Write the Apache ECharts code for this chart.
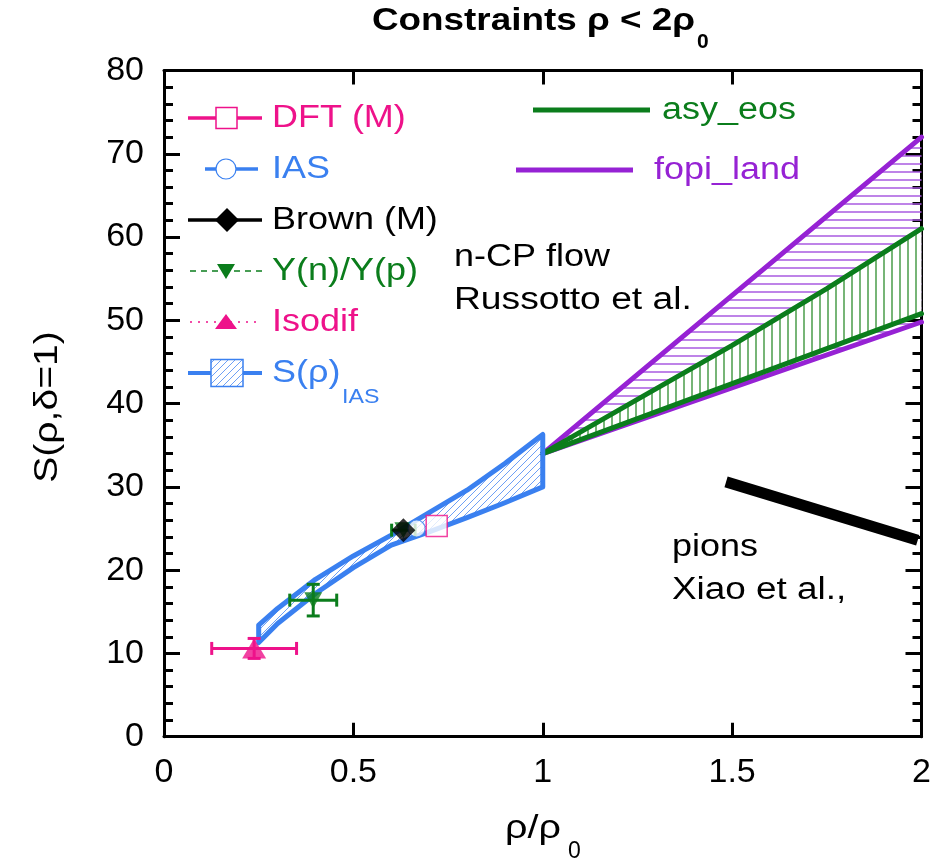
<!DOCTYPE html>
<html><head><meta charset="utf-8">
<script src="https://cdn.jsdelivr.net/npm/echarts@6/dist/echarts.min.js"></script>
<style>html,body{margin:0;padding:0;background:#fff}#c{width:946px;height:865px}</style>
</head><body><div id="c"></div>
<script>
// ---------------- data ----------------
const xTickLabels = ['0', '0.5', '1', '1.5', '2'];
const yTickLabels = ['0', '10', '20', '30', '40', '50', '60', '70', '80'];

// S(rho)_IAS band
const bandX     = [0.25, 0.30, 0.40, 0.50, 0.60, 0.70, 0.80, 0.90, 1.00];
const bandUpper = [13.4, 15.4, 18.9, 21.7, 24.2, 26.9, 29.6, 32.8, 36.3];
const bandLower = [11.3, 13.6, 17.2, 20.3, 23.0, 24.6, 26.3, 28.1, 30.0];

// asy_eos band (green)
const asyX     = [1.0, 1.25, 1.5, 1.75, 2.0];
const asyUpper = [34.0, 40.5, 47.0, 53.8, 61.0];
const asyLower = [34.0, 38.2, 42.4, 46.6, 50.8];

// fopi_land band (purple)
const fopiX     = [1.0, 2.0];
const fopiUpper = [34.0, 72.0];
const fopiLower = [34.0, 49.8];

// pions, Xiao et al.
const pionsX = [1.484, 1.99];
const pionsY = [30.6, 23.6];

// points
const dftX = [0.72],  dftY = [25.3];
const iasX = [0.667], iasY = [25.0];
const brownX = [0.632], brownY = [24.8];
const ynypX = [0.394, 0.632], ynypY = [16.4, 24.8];
const ynypXErr = [0.062, 0.031], ynypYErr = [1.9, 0];
const isoX = [0.238], isoY = [10.6];
const isoXErr = [0.112], isoYErr = [1.2];

const legendLeft = ['DFT (M)', 'IAS', 'Brown (M)', 'Y(n)/Y(p)', 'Isodif', 'S(ρ)'];
const legendRight = ['asy_eos', 'fopi_land'];

// ---------------- styles ----------------
const PINK = '#ee128a', BLUE = '#3a80f0', GREEN = '#0b7d1c', PURPLE = '#9622d4', BLACK = '#000';
const FONT = '"Liberation Sans", Arial, Helvetica, sans-serif';
const SX = 1.16;

function makeTile(w, h, bg, draw) {
  const c = document.createElement('canvas'); c.width = w; c.height = h;
  const ctx = c.getContext('2d');
  if (bg) { ctx.fillStyle = bg; ctx.fillRect(0, 0, w, h); }
  draw(ctx); return c;
}
const blueTile = makeTile(7, 7, 'rgba(255,255,255,0)', ctx => {
  ctx.strokeStyle = 'rgb(110,160,245)'; ctx.lineWidth = 1;
  ctx.beginPath(); ctx.moveTo(-1, 8); ctx.lineTo(8, -1); ctx.moveTo(-1, 1); ctx.lineTo(1, -1); ctx.moveTo(6, 8); ctx.lineTo(8, 6); ctx.stroke();
});
const purpleTile = makeTile(8, 8, null, ctx => {
  ctx.strokeStyle = '#a85ae0'; ctx.lineWidth = 1.5;
  ctx.beginPath(); ctx.moveTo(0, 4); ctx.lineTo(8, 4); ctx.stroke();
});
const greenTile = makeTile(8, 8, '#ffffff', ctx => {
  ctx.strokeStyle = '#4a9c4a'; ctx.lineWidth = 1.5;
  ctx.beginPath(); ctx.moveTo(4, 0); ctx.lineTo(4, 8); ctx.stroke();
});

const mctx = document.createElement('canvas').getContext('2d');
function tw(s, font) { mctx.font = font; return mctx.measureText(s).width; }

function zip(a, b) { return a.map((v, i) => [v, b[i]]); }

function bandSeries(xs, up, lo, fill, stroke, lw, z) {
  return {
    type: 'custom', coordinateSystem: 'cartesian2d', silent: true, z: z,
    data: [[xs[0], lo[0]]],
    renderItem: function (params, api) {
      const pts = [];
      for (let i = 0; i < xs.length; i++) pts.push(api.coord([xs[i], up[i]]));
      for (let i = xs.length - 1; i >= 0; i--) pts.push(api.coord([xs[i], lo[i]]));
      return { type: 'polygon', shape: { points: pts },
        style: { fill: fill, stroke: stroke || null, lineWidth: lw || 0, lineJoin: 'round' } };
    }
  };
}

function errSeries(xs, ys, xe, ye, color, lw, cap, z) {
  return {
    type: 'custom', coordinateSystem: 'cartesian2d', silent: true, z: z,
    data: xs.map((x, i) => [x, ys[i], xe[i], ye[i]]),
    renderItem: function (params, api) {
      const x = api.value(0), y = api.value(1), dx = api.value(2), dy = api.value(3);
      const ch = [];
      const st = { stroke: color, lineWidth: lw };
      if (dx > 0) {
        const a = api.coord([x - dx, y]), b = api.coord([x + dx, y]);
        ch.push({ type: 'line', shape: { x1: a[0], y1: a[1], x2: b[0], y2: b[1] }, style: st });
        ch.push({ type: 'line', shape: { x1: a[0], y1: a[1] - cap / 2, x2: a[0], y2: a[1] + cap / 2 }, style: st });
        ch.push({ type: 'line', shape: { x1: b[0], y1: b[1] - cap / 2, x2: b[0], y2: b[1] + cap / 2 }, style: st });
      }
      if (dy > 0) {
        const a = api.coord([x, y - dy]), b = api.coord([x, y + dy]);
        ch.push({ type: 'line', shape: { x1: a[0], y1: a[1], x2: b[0], y2: b[1] }, style: st });
        ch.push({ type: 'line', shape: { x1: a[0] - cap / 2, y1: a[1], x2: a[0] + cap / 2, y2: a[1] }, style: st });
        ch.push({ type: 'line', shape: { x1: b[0] - cap / 2, y1: b[1], x2: b[0] + cap / 2, y2: b[1] }, style: st });
      }
      return { type: 'group', children: ch };
    }
  };
}

function lineSeries(xs, ys, color, w, z, cap) {
  return { type: 'line', data: zip(xs, ys), symbol: 'none', silent: true, z: z,
    lineStyle: { color: color, width: w, cap: cap || 'round' }, animation: false };
}

function text(s, x, y, size, color, opt) {
  opt = opt || {};
  const font = (opt.bold ? 'bold ' : '') + size + 'px ' + FONT;
  let sx = opt.sx || SX;
  if (opt.width) sx = opt.width / tw(s, font);
  return { type: 'text', x: x, y: y, scaleX: sx, rotation: opt.rot || 0, silent: true, z: 100,
    style: { text: s, font: font, fill: color, align: opt.align || 'left', verticalAlign: 'middle',
      textAlign: opt.align || 'left', textVerticalAlign: 'middle' } };
}
function seg(x1, y1, x2, y2, color, w, dash) {
  return { type: 'line', silent: true, z: 100, shape: { x1: x1, y1: y1, x2: x2, y2: y2 },
    style: { stroke: color, lineWidth: w, lineDash: dash || null } };
}

// ---------------- legend graphics ----------------
const rowY = [118, 169, 220, 271, 322, 373];
const legendColors = [PINK, BLUE, BLACK, GREEN, PINK, BLUE];
const gr = [];
gr.push(seg(188, rowY[0], 262, rowY[0], PINK, 3.3));
gr.push({ type: 'rect', z: 101, silent: true, shape: { x: 216, y: rowY[0] - 10.5, width: 21, height: 21 }, style: { fill: '#fff', stroke: PINK, lineWidth: 1.5 } });
gr.push(seg(205, rowY[1], 258, rowY[1], BLUE, 3.3));
gr.push({ type: 'circle', z: 101, silent: true, shape: { cx: 226, cy: rowY[1], r: 10 }, style: { fill: '#fff', stroke: BLUE, lineWidth: 1.2 } });
gr.push(seg(188, rowY[2], 262, rowY[2], BLACK, 3.3));
gr.push({ type: 'polygon', z: 101, silent: true, shape: { points: [[227, rowY[2] - 12], [239, rowY[2]], [227, rowY[2] + 12], [215, rowY[2]]] }, style: { fill: BLACK } });
gr.push(seg(190, rowY[3], 262, rowY[3], GREEN, 1.5, [6, 5]));
gr.push({ type: 'polygon', z: 101, silent: true, shape: { points: [[217, rowY[3] - 7], [235, rowY[3] - 7], [226, rowY[3] + 8]] }, style: { fill: GREEN } });
gr.push(seg(190, rowY[4], 260, rowY[4], PINK, 1.5, [2, 6]));
gr.push({ type: 'polygon', z: 101, silent: true, shape: { points: [[215, rowY[4] + 7], [237, rowY[4] + 7], [226, rowY[4] - 8]] }, style: { fill: PINK } });
gr.push(seg(188, rowY[5], 262, rowY[5], BLUE, 4));
gr.push({ type: 'rect', z: 101, silent: true, shape: { x: 211, y: rowY[5] - 13.5, width: 32, height: 27 }, style: { fill: '#fff' } });
gr.push({ type: 'rect', z: 102, silent: true, shape: { x: 211, y: rowY[5] - 13.5, width: 32, height: 27 }, style: { fill: { image: blueTile, repeat: 'repeat' }, stroke: BLUE, lineWidth: 1.5 } });
legendLeft.forEach((s, i) => gr.push(text(s, 272, rowY[i], 31, legendColors[i])));
gr.push(text('IAS', 342, rowY[5] + 24, 20, BLUE));

gr.push(seg(533, 110, 650, 110, GREEN, 5));
gr.push(text(legendRight[0], 662, 110, 31, GREEN));
gr.push(seg(516, 170, 633, 170, PURPLE, 5));
gr.push(text(legendRight[1], 654, 170, 31, PURPLE));

// annotations
gr.push(text('n-CP flow', 454, 257, 31, BLACK));
gr.push(text('Russotto et al.', 454, 300, 31, BLACK, { sx: 1.2 }));
gr.push(text('pions', 672, 547, 31, BLACK));
gr.push(text('Xiao et al.,', 672, 590, 31, BLACK, { sx: 1.19 }));

// title
gr.push(text('Constraints ρ < 2ρ', 372, 21, 31, BLACK, { bold: true, width: 323 }));
gr.push(text('0', 697, 42, 21, BLACK, { bold: true, sx: 1.0 }));

// axis names
gr.push(text('ρ/ρ', 505, 829, 34, BLACK));
gr.push(text('0', 568, 852, 23, BLACK, { sx: 1.0 }));
gr.push(text('S(ρ,δ=1)', 48, 407, 34, BLACK, { align: 'center', rot: Math.PI / 2, sx: 1.15 }));

// ---------------- chart ----------------
const axisCommon = {
  type: 'value', axisLine: { show: true, onZero: false, lineStyle: { color: BLACK, width: 3 } },
  splitLine: { show: false }
};
const xFmt = v => xTickLabels[Math.round(v / 0.5)];
const yFmt = v => yTickLabels[Math.round(v / 10)];

const chart = echarts.init(document.getElementById('c'), null, { renderer: 'canvas' });
chart.setOption({
  animation: false,
  backgroundColor: '#fff',
  grid: { left: 164, right: 24.5, top: 70.5, bottom: 128.3, containLabel: false },
  xAxis: [
    Object.assign({}, axisCommon, { position: 'bottom', min: 0, max: 2, interval: 0.5,
      axisTick: { show: true, inside: true, length: 14, lineStyle: { color: BLACK, width: 3 } },
      axisLabel: { show: true, margin: 19, fontSize: 34, color: BLACK, fontFamily: FONT, formatter: xFmt } }),
    Object.assign({}, axisCommon, { position: 'top', min: 0, max: 2, interval: 0.5,
      axisTick: { show: true, inside: true, length: 14, lineStyle: { color: BLACK, width: 3 } },
      axisLabel: { show: false } })
  ],
  yAxis: [
    Object.assign({}, axisCommon, { position: 'left', min: 0, max: 80, interval: 10,
      axisTick: { show: true, inside: true, length: 16, lineStyle: { color: BLACK, width: 3 } },
      minorTick: { show: true, splitNumber: 5, length: 9, lineStyle: { color: BLACK, width: 3 } },
      axisLabel: { show: true, margin: 20, fontSize: 34, color: BLACK, fontFamily: FONT, formatter: yFmt } }),
    Object.assign({}, axisCommon, { position: 'right', min: 0, max: 80, interval: 10,
      axisTick: { show: true, inside: true, length: 16, lineStyle: { color: BLACK, width: 3 } },
      minorTick: { show: true, splitNumber: 5, length: 9, lineStyle: { color: BLACK, width: 3 } },
      axisLabel: { show: false } })
  ],
  graphic: gr,
  series: [
    bandSeries(fopiX, fopiUpper, fopiLower, { image: purpleTile, repeat: 'repeat' }, null, 0, 1),
    bandSeries(asyX, asyUpper, asyLower, { image: greenTile, repeat: 'repeat' }, null, 0, 2),
    lineSeries(fopiX, fopiUpper, PURPLE, 5, 3),
    lineSeries(fopiX, fopiLower, PURPLE, 5, 3),
    lineSeries(asyX, asyUpper, GREEN, 5, 4),
    lineSeries(asyX, asyLower, GREEN, 5, 4),
    bandSeries(bandX, bandUpper, bandLower, { image: blueTile, repeat: 'repeat' }, BLUE, 5, 5),
    lineSeries(pionsX, pionsY, BLACK, 11, 5, 'butt'),
    errSeries(ynypX, ynypY, ynypXErr, ynypYErr, GREEN, 3, 13, 6),
    errSeries(isoX, isoY, isoXErr, isoYErr, PINK, 3, 13, 6),
    { type: 'scatter', data: zip(ynypX, ynypY), symbol: 'triangle', symbolRotate: 180, symbolSize: [18, 16], z: 7, silent: true,
      itemStyle: { color: GREEN } },
    { type: 'scatter', data: zip(isoX, isoY), symbol: 'triangle', symbolSize: [24, 20], z: 7, silent: true,
      itemStyle: { color: PINK } },
    { type: 'scatter', data: zip(iasX, iasY), symbol: 'circle', symbolSize: 17, z: 8, silent: true,
      itemStyle: { color: '#fff', borderColor: BLUE, borderWidth: 1.2 } },
    { type: 'scatter', data: zip(dftX, dftY), symbol: 'rect', symbolSize: 21, z: 9, silent: true,
      itemStyle: { color: '#fff', borderColor: PINK, borderWidth: 1.5 } },
    { type: 'scatter', data: zip(brownX, brownY), symbol: 'diamond', symbolSize: 24, z: 10, silent: true,
      itemStyle: { color: BLACK } }
  ]
});
</script></body></html>
